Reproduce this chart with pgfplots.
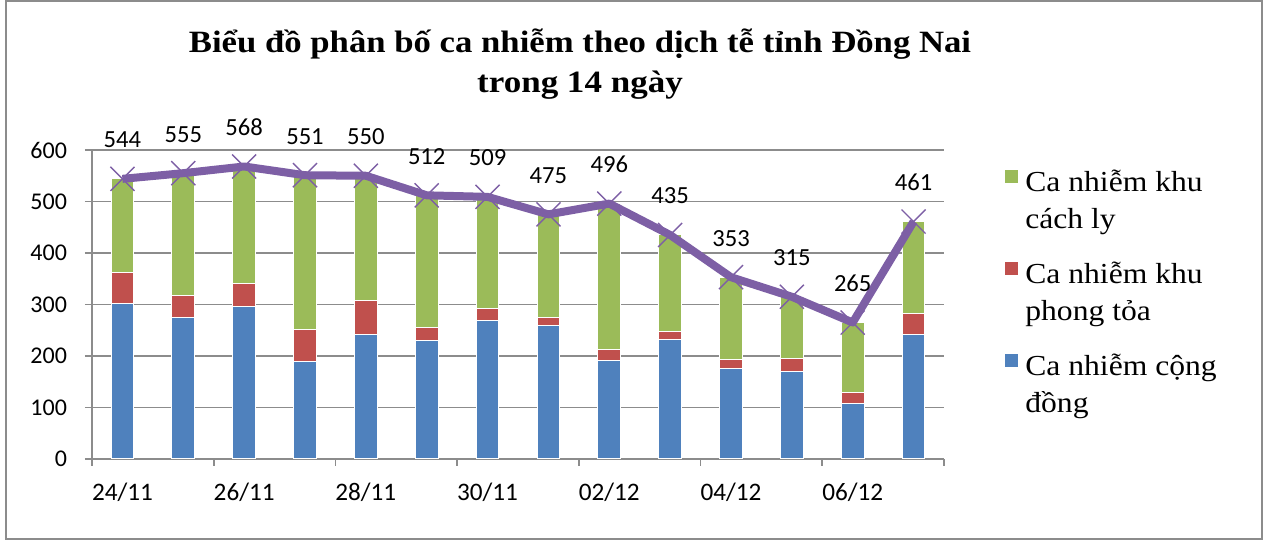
\documentclass[border=0pt]{standalone}
\usepackage{pgfplots}
\usepackage{pgfplotstable}
\pgfplotsset{compat=1.18}
\usepackage{fontspec}
\setmainfont{Liberation Serif}
\newfontfamily\calibri{Carlito}
\definecolor{cBlue}{HTML}{4F81BD}
\definecolor{cRed}{HTML}{C0504D}
\definecolor{cGreen}{HTML}{9BBB59}
\definecolor{cPurple}{HTML}{7D5FA5}
\definecolor{cGrid}{HTML}{8C8C8C}

\pgfplotstableread{
x blue red green total
0 301 62 181 544
1 275 43 237 555
2 297 43 228 568
3 189 63 299 551
4 241 67 242 550
5 231 25 256 512
6 269 23 217 509
7 260 14 201 475
8 192 21 283 496
9 232 16 187 435
10 176 17 160 353
11 170 25 120 315
12 108 21 136 265
13 241 41 179 461
}\datatable

\newcommand{\legtext}[2]{\fontsize{14.5}{18.5}\selectfont\begin{tabular}[t]{@{}l@{}}\scalebox{1.09}[1]{#1}\\\scalebox{1.09}[1]{#2}\end{tabular}}

\begin{document}
\begin{tikzpicture}
\useasboundingbox (0,0) rectangle (633.5pt,270pt);
\draw[cGrid, line width=0.6pt] (3pt,0.5pt) rectangle (631pt,269.5pt);
\node[anchor=base, font=\bfseries\fontsize{15.5}{18}\selectfont] at (290pt,243.5pt) {\scalebox{1.12}[1]{Biểu đồ phân bố ca nhiễm theo dịch tễ tỉnh Đồng Nai}};
\node[anchor=base, font=\bfseries\fontsize{15.5}{18}\selectfont] at (290pt,223.5pt) {\scalebox{1.13}[1]{trong 14 ngày}};
\begin{axis}[
  at={(46pt,40.5pt)}, anchor=south west,
  scale only axis, width=426pt, height=154.5pt,
  ybar stacked, bar width=11.35pt,
  xmin=-0.5, xmax=13.5, ymin=0, ymax=600,
  axis x line*=bottom, axis y line*=left,
  axis line style={cGrid, line width=0.8pt},
  tick align=outside, major tick length=3.5pt,
  tick style={cGrid, line width=0.8pt},
  xtick={-0.5,1.5,...,13.5},
  xticklabels={24/11,26/11,28/11,30/11,02/12,04/12,06/12,{}},
  tick label style={font=\calibri\fontsize{12}{14}\selectfont, text=black},
  xticklabel style={xshift=15.21pt, yshift=-5pt, font=\calibri\fontsize{12.6}{14}\selectfont},
  yticklabel style={xshift=-5.5pt},
  ytick={0,100,...,600},
  ymajorgrids, grid style={cGrid, line width=0.8pt},
  /pgf/number format/assume math mode=true,
  reverse legend, legend cell align=left,
  legend style={at={(1.0645,0.976)}, anchor=north west, draw=none, fill=none,
    column sep=1.5pt, row sep=27.5pt},
  legend image code/.code={\path[#1,draw=none] (0pt,-1.25pt) rectangle (6.5pt,5.25pt);},
  clip=false,
]
\addplot[fill=cBlue, draw=white, line width=0.5pt] table[x=x,y=blue]{\datatable};
\addlegendentry{\legtext{Ca nhiễm cộng}{đồng}}
\addplot[fill=cRed, draw=white, line width=0.5pt] table[x=x,y=red]{\datatable};
\addlegendentry{\legtext{Ca nhiễm khu}{phong tỏa}}
\addplot[fill=cGreen, draw=white, line width=0.5pt] table[x=x,y=green]{\datatable};
\addlegendentry{\legtext{Ca nhiễm khu}{cách ly}}
\end{axis}
\begin{axis}[
  at={(46pt,40.5pt)}, anchor=south west,
  scale only axis, width=426pt, height=154.5pt,
  xmin=-0.5, xmax=13.5, ymin=0, ymax=600,
  hide axis, clip=false,
  /pgf/number format/assume math mode=true,
]
\addplot[cPurple, line width=4pt, line join=round,
  mark=x, mark size=8.5pt, mark options={line width=0.7pt, solid},
  nodes near coords,
  every node near coord/.style={anchor=base, yshift=15.5pt, font=\calibri\fontsize{12.3}{14}\selectfont, text=black}
] table[x=x,y=total]{\datatable};
\end{axis}
\end{tikzpicture}
\end{document}
